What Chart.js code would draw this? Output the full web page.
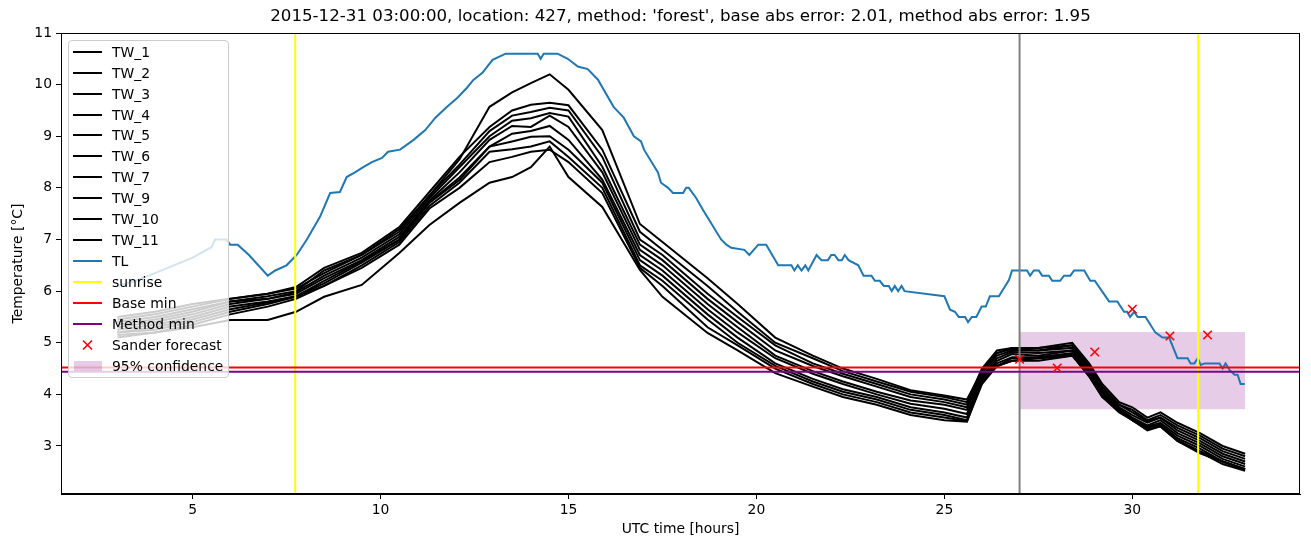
<!DOCTYPE html>
<html>
<head>
<meta charset="utf-8">
<script src="https://cdn.jsdelivr.net/npm/chart.js@4.4.0/dist/chart.umd.min.js"></script>
<style>
  body { margin: 0; background: #fff; font-family: "DejaVu Sans", sans-serif; }
  #wrap { position: relative; width: 1311px; height: 547px; }
  #legend {
    position: absolute; box-sizing: border-box; width: 161px; height: 338px;
    background: rgba(255,255,255,0.8); border: 1px solid #cccccc; border-radius: 4px;
    padding-top: 0.3px; font-size: 13.9px; color: #000;
  }
  #legend .row { height: 20.93px; display: flex; align-items: center; white-space: nowrap; }
  #legend .sw { width: 29px; margin-left: 4px; margin-right: 10px; display: flex; align-items: center; justify-content: center; }
</style>
</head>
<body>
<div id="wrap">
  <canvas id="myChart" width="1311" height="547"></canvas>
  <div id="legend"></div>
</div>
<script>
var chartTitle = "2015-12-31 03:00:00, location: 427, method: 'forest', base abs error: 2.01, method abs error: 1.95";
var xTicks = [5, 10, 15, 20, 25, 30];
var yTicks = [3, 4, 5, 6, 7, 8, 9, 10, 11];
var xMin = 1.5, xMax = 34.46, yMin = 2.07, yMax = 11.0;

var twNames = ['TW_1', 'TW_2', 'TW_3', 'TW_4', 'TW_5', 'TW_6', 'TW_7', 'TW_9', 'TW_10', 'TW_11'];
var gridX = [3.0, 4.0, 5.0, 6.0, 7.0, 7.75, 8.5, 9.5, 10.5, 11.3, 12.1, 12.9, 13.5, 14.0, 14.5, 15.0, 15.9, 16.9, 17.5, 18.7, 19.5,
  20.5, 21.5, 22.3, 23.2, 24.1, 25.0, 25.6, 26.0, 26.4, 26.8, 27.5, 28.4, 28.85, 29.2, 29.65, 30.0, 30.4, 30.75, 31.2, 31.8, 32.4, 33.0];

var tw1 = [5.4, 5.5, 5.65, 5.8, 5.9, 6.0, 6.4, 6.7, 7.2, 7.85, 8.45, 9.1, 9.4, 9.47, 9.55, 9.5, 8.6, 7.0, 6.7, 5.95, 5.5,
  4.95, 4.6, 4.4, 4.2, 4.0, 3.9, 3.8, 4.45, 4.8, 4.88, 4.85, 4.95, 4.5, 4.1, 3.8, 3.65, 3.48, 3.55, 3.35, 3.15, 2.9, 2.75];
var tw2 = [5.45, 5.55, 5.7, 5.85, 5.95, 6.08, 6.45, 6.74, 7.24, 7.92, 8.6, 9.18, 9.5, 9.61, 9.65, 9.6, 8.74, 7.15, 6.8, 6.1, 5.6,
  5.0, 4.7, 4.45, 4.25, 4.05, 3.95, 3.85, 4.5, 4.85, 4.9, 4.9, 4.95, 4.55, 4.15, 3.8, 3.7, 3.5, 3.6, 3.4, 3.2, 2.95, 2.8];
var tw3 = [5.5, 5.6, 5.75, 5.85, 5.95, 6.05, 6.35, 6.7, 7.15, 7.85, 8.55, 9.57, 9.85, 10.03, 10.2, 9.9, 9.12, 7.3, 6.95, 6.25, 5.75,
  5.1, 4.75, 4.5, 4.3, 4.08, 3.98, 3.9, 4.45, 4.8, 4.9, 4.9, 5.0, 4.6, 4.2, 3.85, 3.75, 3.55, 3.65, 3.45, 3.25, 3.0, 2.85];
var tw4 = [5.35, 5.45, 5.6, 5.8, 5.85, 5.98, 6.3, 6.65, 7.1, 7.8, 8.4, 9.0, 9.3, 9.35, 9.45, 9.38, 8.41, 6.9, 6.6, 5.85, 5.4,
  4.85, 4.55, 4.35, 4.15, 3.95, 3.85, 3.75, 4.4, 4.75, 4.85, 4.85, 4.9, 4.5, 4.1, 3.75, 3.6, 3.45, 3.55, 3.3, 3.1, 2.85, 2.7];
var tw5 = [5.3, 5.4, 5.55, 5.75, 5.85, 5.95, 6.25, 6.6, 7.05, 7.75, 8.3, 8.93, 9.2, 9.18, 9.4, 9.18, 8.3, 6.8, 6.5, 5.75, 5.3,
  4.75, 4.45, 4.25, 4.05, 3.88, 3.8, 3.7, 4.35, 4.7, 4.82, 4.8, 4.85, 4.45, 4.05, 3.72, 3.55, 3.4, 3.5, 3.25, 3.05, 2.8, 2.65];
var tw6 = [5.25, 5.35, 5.5, 5.7, 5.8, 5.9, 6.2, 6.58, 7.0, 7.72, 8.2, 8.8, 9.05, 9.1, 9.2, 8.93, 8.16, 6.7, 6.4, 5.65, 5.2,
  4.7, 4.4, 4.2, 4.0, 3.82, 3.72, 3.62, 4.3, 4.65, 4.78, 4.75, 4.85, 4.4, 4.0, 3.7, 3.52, 3.38, 3.45, 3.2, 3.0, 2.75, 2.6];
var tw7 = [5.2, 5.3, 5.45, 5.65, 5.78, 5.9, 6.15, 6.55, 6.99, 7.71, 8.15, 8.8, 8.9, 8.99, 9.0, 8.74, 8.1, 6.6, 6.3, 5.55, 5.1,
  4.6, 4.3, 4.1, 3.95, 3.75, 3.65, 3.55, 4.3, 4.6, 4.72, 4.72, 4.8, 4.4, 4.0, 3.68, 3.5, 3.35, 3.42, 3.15, 2.95, 2.7, 2.55];
var tw9 = [5.2, 5.25, 5.4, 5.6, 5.75, 5.89, 6.1, 6.5, 6.95, 7.65, 8.1, 8.7, 8.75, 8.8, 8.9, 8.6, 8.0, 6.5, 6.2, 5.45, 5.0,
  4.55, 4.25, 4.05, 3.9, 3.7, 3.6, 3.5, 4.25, 4.55, 4.7, 4.7, 4.78, 4.35, 3.95, 3.7, 3.5, 3.35, 3.4, 3.12, 2.9, 2.7, 2.55];
var tw10 = [5.15, 5.2, 5.35, 5.55, 5.7, 5.85, 6.1, 6.45, 6.9, 7.6, 8.0, 8.5, 8.6, 8.7, 8.74, 8.5, 7.9, 6.45, 6.1, 5.3, 4.95,
  4.5, 4.2, 4.0, 3.85, 3.65, 3.55, 3.48, 4.2, 4.55, 4.65, 4.7, 4.75, 4.35, 3.95, 3.65, 3.5, 3.3, 3.38, 3.1, 2.88, 2.65, 2.52];
var tw11 = [5.1, 5.2, 5.3, 5.44, 5.44, 5.6, 5.89, 6.12, 6.74, 7.28, 7.71, 8.1, 8.21, 8.4, 8.8, 8.21, 7.63, 6.41, 5.89, 5.19, 4.85,
  4.41, 4.15, 3.95, 3.8, 3.6, 3.5, 3.47, 4.25, 4.55, 4.65, 4.65, 4.75, 4.4, 4.0, 3.7, 3.5, 3.32, 3.38, 3.1, 2.86, 2.7, 2.55];
var twValues = [tw1, tw2, tw3, tw4, tw5, tw6, tw7, tw9, tw10, tw11];

var tlX = [3.0, 3.5, 4.0, 4.5, 5.0, 5.5, 5.6, 5.9, 6.0, 6.2, 6.5, 7.0, 7.2, 7.5, 7.77, 8.04, 8.39, 8.66, 8.92, 9.1, 9.32, 9.54,
  9.77, 10.04, 10.2, 10.52, 10.88, 11.19, 11.46, 11.77, 12.04, 12.3, 12.47, 12.71, 12.98, 13.33, 14.18, 14.26, 14.34, 14.71,
  14.98, 15.25, 15.51, 15.78, 16.2, 16.47, 16.74, 16.93, 17.01, 17.38, 17.46, 17.65, 17.78, 18.05, 18.13, 18.2, 18.4, 18.58,
  19.06, 19.2, 19.33, 19.68, 19.81, 20.05, 20.26, 20.58, 20.93, 21.01, 21.1, 21.2, 21.3, 21.38, 21.6, 21.73, 21.9, 21.99,
  22.08, 22.18, 22.27, 22.35, 22.45, 22.71, 22.85, 23.06, 23.15, 23.28, 23.39, 23.52, 23.6, 23.68, 23.77, 23.86, 23.94,
  25.0, 25.15, 25.28, 25.38, 25.55, 25.63, 25.73, 25.85, 25.99, 26.1, 26.21, 26.45, 26.72, 26.8, 27.2, 27.28, 27.38, 27.51,
  27.6, 27.78, 27.87, 28.08, 28.18, 28.35, 28.45, 28.72, 28.88, 29.0, 29.38, 29.6, 29.78, 29.86, 29.94, 30.05, 30.14, 30.35,
  30.61, 30.8, 30.98, 31.2, 31.47, 31.55, 31.65, 31.74, 31.82, 31.92, 32.32, 32.4, 32.48, 32.59, 32.72, 32.8, 32.88, 32.99];
var tlY = [6.1, 6.2, 6.35, 6.5, 6.65, 6.85, 7.0, 7.0, 6.9, 6.9, 6.7, 6.3, 6.4, 6.5, 6.7, 7.0, 7.44, 7.9, 7.92, 8.21, 8.3, 8.4,
  8.5, 8.58, 8.7, 8.74, 8.93, 9.12, 9.36, 9.57, 9.74, 9.94, 10.09, 10.23, 10.48, 10.6, 10.6, 10.5, 10.6, 10.6,
  10.5, 10.35, 10.3, 10.1, 9.57, 9.36, 9.0, 8.9, 8.74, 8.3, 8.1, 8.0, 7.9, 7.9, 8.0, 8.0, 7.8, 7.57,
  7.0, 6.9, 6.84, 6.8, 6.7, 6.9, 6.9, 6.5, 6.5, 6.4, 6.5, 6.4, 6.5, 6.4, 6.7, 6.6, 6.6, 6.7,
  6.7, 6.6, 6.6, 6.7, 6.6, 6.5, 6.3, 6.3, 6.2, 6.2, 6.1, 6.1, 6.0, 6.1, 6.0, 6.1, 6.0,
  5.9, 5.64, 5.6, 5.5, 5.5, 5.4, 5.5, 5.5, 5.7, 5.7, 5.9, 5.9, 6.22, 6.4, 6.4, 6.3, 6.4, 6.4,
  6.3, 6.3, 6.2, 6.2, 6.3, 6.3, 6.4, 6.4, 6.2, 6.2, 5.8, 5.8, 5.6, 5.6, 5.5, 5.6, 5.5, 5.5,
  5.2, 5.1, 5.1, 4.7, 4.7, 4.6, 4.6, 4.7, 4.57, 4.6, 4.6, 4.5, 4.6, 4.47, 4.38, 4.38, 4.2, 4.2];

var sunrise = [7.73, 31.75];
var nowLine = 27.0;
var baseMin = 4.52;
var methodMin = 4.44;
var sanderX = [27, 28, 29, 30, 31, 32];
var sanderY = [4.68, 4.51, 4.82, 5.65, 5.13, 5.15];
var confX = [27.0, 33.0];
var confLow = 3.71, confHigh = 5.21;

function pts(xs, ys) {
  var out = [];
  for (var i = 0; i < xs.length; i++) {
    out.push({x: xs[i], y: ys[i]});
  }
  return out;
}

function lineSet(label, data, color, order) {
  return {
    label: label, data: data, borderColor: color, backgroundColor: color,
    borderWidth: 2, pointRadius: 0, tension: 0, fill: false, order: order
  };
}

var datasets = [];
datasets.push({
  label: 'Sander forecast', data: pts(sanderX, sanderY), showLine: false,
  pointStyle: 'crossRot', pointRadius: 6, pointBorderWidth: 1.6,
  borderColor: 'red', backgroundColor: 'red', order: 1
});
datasets.push(lineSet('Base min', pts([xMin, xMax], [baseMin, baseMin]), 'red', 2));
datasets.push(lineSet('Method min', pts([xMin, xMax], [methodMin, methodMin]), 'purple', 2));
for (var s = 0; s < sunrise.length; s++) {
  datasets.push(lineSet('sunrise', pts([sunrise[s], sunrise[s]], [yMin, yMax]), '#ffff00', 3));
}
datasets.push(lineSet('now', pts([nowLine, nowLine], [yMin, yMax]), '#808080', 3));
datasets.push(lineSet('TL', pts(tlX, tlY), '#1f77b4', 4));
for (var t = 0; t < twValues.length; t++) {
  datasets.push(lineSet(twNames[t], pts(gridX, twValues[t]), '#000000', 5));
}
datasets.push({
  label: '95% confidence', data: pts(confX, [confHigh, confHigh]),
  borderWidth: 0, pointRadius: 0, borderColor: 'rgba(0,0,0,0)',
  backgroundColor: 'rgba(128,0,128,0.2)', fill: {value: confLow}, order: 10
});

// spines on all four sides and a title centred over the axes, as matplotlib does
var frame = {
  id: 'frame',
  afterDraw: function(chart) {
    var a = chart.chartArea, ctx = chart.ctx;
    ctx.save();
    ctx.strokeStyle = '#000';
    ctx.lineWidth = 1;
    ctx.strokeRect(Math.round(a.left) + 0.5, Math.round(a.top) + 0.5,
      Math.round(a.right - a.left) - 1, Math.round(a.bottom - a.top) - 1);
    ctx.fillStyle = '#000';
    ctx.font = '16.67px "DejaVu Sans"';
    ctx.textAlign = 'center';
    ctx.textBaseline = 'middle';
    ctx.fillText(chartTitle, (a.left + a.right) / 2, 17);
    ctx.restore();
  }
};

var tickFont = {family: 'DejaVu Sans', size: 13.9};

var ctx = document.getElementById('myChart');
var chart = new Chart(ctx, {
  type: 'line',
  data: {datasets: datasets},
  options: {
    responsive: false,
    animation: false,
    layout: {padding: {left: 0, right: 11, top: 33, bottom: 0}},
    plugins: {
      legend: {display: false},
      tooltip: {enabled: false},
      title: {display: false}
    },
    scales: {
      x: {
        type: 'linear', min: xMin, max: xMax,
        afterBuildTicks: function(sc) { sc.ticks = xTicks.map(function(v) { return {value: v}; }); },
        afterFit: function(sc) { sc.height = 53; },
        ticks: {color: '#000', font: tickFont, padding: 3, maxRotation: 0, autoSkip: false},
        grid: {display: true, drawOnChartArea: false, drawTicks: true, tickLength: 5, color: '#000'},
        border: {display: true, color: '#000', width: 1},
        title: {display: true, text: 'UTC time [hours]', color: '#000', font: tickFont, padding: {top: 4, bottom: 9}}
      },
      y: {
        type: 'linear', min: yMin, max: yMax,
        afterBuildTicks: function(sc) { sc.ticks = yTicks.map(function(v) { return {value: v}; }); },
        afterFit: function(sc) { sc.width = 61; },
        ticks: {color: '#000', font: tickFont, padding: 4, autoSkip: false},
        grid: {display: true, drawOnChartArea: false, drawTicks: true, tickLength: 5, color: '#000'},
        border: {display: true, color: '#000', width: 1},
        title: {display: true, text: 'Temperature [°C]', color: '#000', font: tickFont, padding: {top: 10, bottom: 4}}
      }
    }
  },
  plugins: [frame]
});

// legend box drawn as html over the plot, like matplotlib's upper-left legend
var legendItems = [];
for (var k = 0; k < twNames.length; k++) legendItems.push({text: twNames[k], kind: 'line', color: '#000'});
legendItems.push({text: 'TL', kind: 'line', color: '#1f77b4'});
legendItems.push({text: 'sunrise', kind: 'line', color: '#ffff00'});
legendItems.push({text: 'Base min', kind: 'line', color: 'red'});
legendItems.push({text: 'Method min', kind: 'line', color: 'purple'});
legendItems.push({text: 'Sander forecast', kind: 'cross', color: 'red'});
legendItems.push({text: '95% confidence', kind: 'patch', color: 'rgba(128,0,128,0.2)'});

var leg = document.getElementById('legend');
var area = chart.chartArea;
leg.style.left = (area.left + 7) + 'px';
leg.style.top = (area.top + 7) + 'px';
var html = '';
for (var j = 0; j < legendItems.length; j++) {
  var it = legendItems[j];
  var sw = '';
  if (it.kind === 'line') {
    sw = '<div style="width:29px;height:2px;background:' + it.color + '"></div>';
  } else if (it.kind === 'cross') {
    sw = '<svg width="29" height="12"><path d="M10 1.5 L19 10.5 M19 1.5 L10 10.5" stroke="red" stroke-width="1.6"/></svg>';
  } else {
    sw = '<div style="width:28px;height:10px;background:' + it.color + '"></div>';
  }
  html += '<div class="row"><div class="sw">' + sw + '</div><span>' + it.text + '</span></div>';
}
leg.innerHTML = html;
</script>
</body>
</html>
